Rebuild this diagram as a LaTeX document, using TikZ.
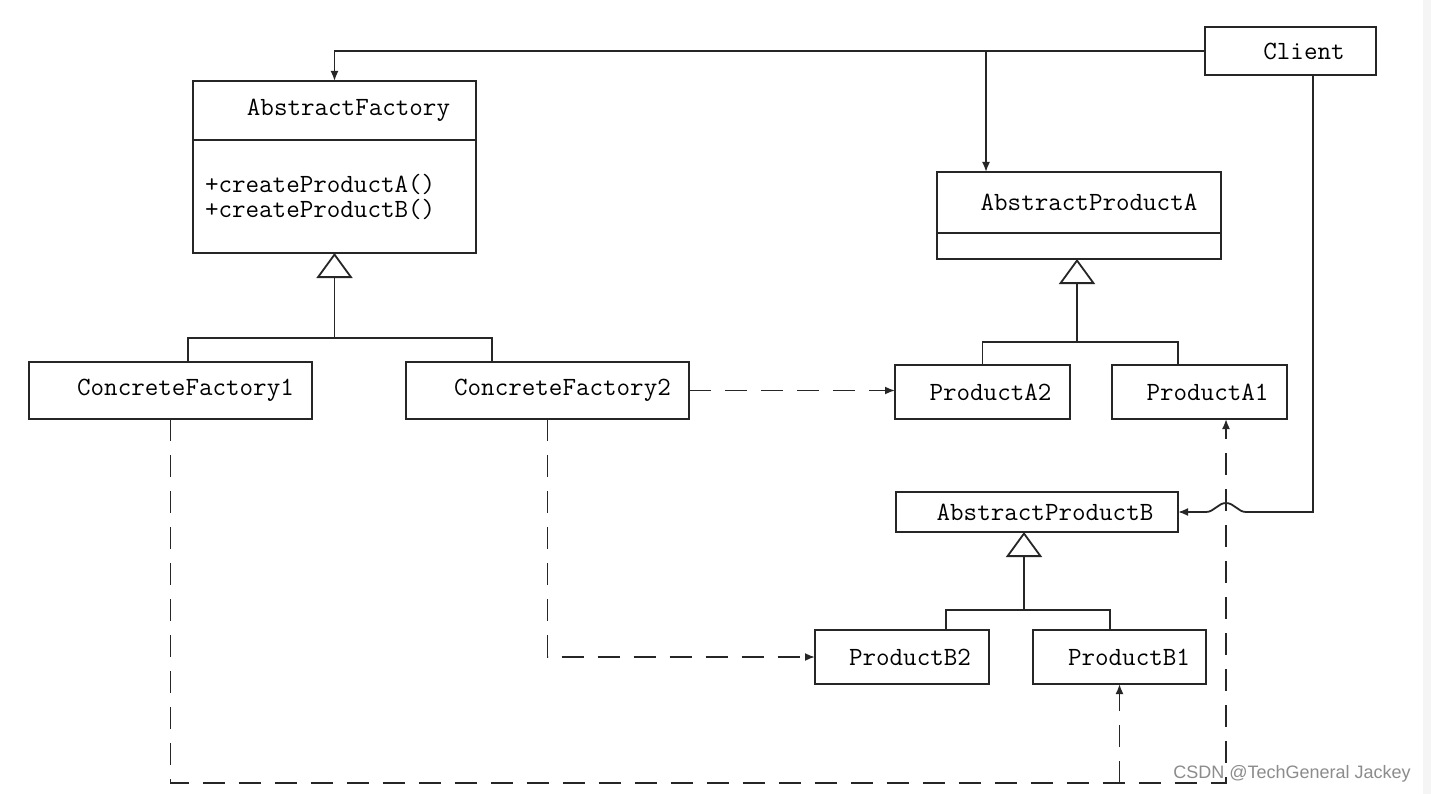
\documentclass[tikz,border=0pt]{standalone}
\usepackage{fontspec}
\setsansfont{Liberation Sans}
\usetikzlibrary{arrows.meta,positioning,calc}

\begin{document}
\begin{tikzpicture}[x=1pt,y=-1pt,line join=miter,
	cls/.style={draw=black!85,line width=1.8pt,fill=white,inner sep=0pt,outer sep=0pt,
		font=\ttfamily\fontsize{26.3}{25}\selectfont},
	ln/.style={draw=black!85,line width=1.8pt},
	arr/.style={ln,-{Latex[length=10pt,width=8pt]}},
	dep/.style={arr,dash pattern=on 22pt off 14pt},
	inh/.style={ln,-{Triangle[open,length=25pt,width=36pt]}},
	wmtext/.style={text=black!45,font=\sffamily\fontsize{18}{20}\selectfont,inner sep=0pt}]
	\useasboundingbox (0,0) rectangle (1431,794);
	\fill[white] (0,0) rectangle (1431,794);
	\fill[black!4] (1423,0) rectangle (1431,794);
	% classes
	\node[cls,minimum width=171pt,minimum height=48pt] (client) at (1290.5,51) {\hspace*{27pt}Client};
	\node[cls,minimum width=283pt,minimum height=59pt] (aft) at (334.5,110.5) {\hspace*{28pt}AbstractFactory};
	\node[cls,minimum width=283pt,minimum height=113pt,text width=259pt,inner xsep=12pt,align=left,below=0pt of aft] (afb)
		{+createProductA()\\+createProductB()};
	\node[cls,minimum width=284pt,minimum height=61pt] (apat) at (1079,202.5) {\hspace*{20pt}AbstractProductA};
	\node[cls,minimum width=284pt,minimum height=26pt,below=0pt of apat] (apab) {};
	\node[cls,minimum width=283pt,minimum height=57pt] (cf1) at (170.5,390.5) {\hspace*{30pt}ConcreteFactory1};
	\node[cls,minimum width=283pt,minimum height=57pt] (cf2) at (547.5,390.5) {\hspace*{30pt}ConcreteFactory2};
	\node[cls,minimum width=175pt,minimum height=54pt] (pa2) at (982.5,392) {\hspace*{16pt}ProductA2};
	\node[cls,minimum width=175pt,minimum height=54pt] (pa1) at (1199.5,392) {\hspace*{16pt}ProductA1};
	\node[cls,minimum width=282pt,minimum height=40pt] (apb) at (1037,512) {\hspace*{16pt}AbstractProductB};
	\node[cls,minimum width=174pt,minimum height=54pt] (pb2) at (902,657) {\hspace*{16pt}ProductB2};
	\node[cls,minimum width=173pt,minimum height=54pt] (pb1) at (1119.5,657) {\hspace*{19pt}ProductB1};
	% inheritance
	\coordinate (afj) at ($(afb.south)+(0,85)$);
	\draw[inh] (afj) -- (afb.south);
	\draw[ln] ($(cf1.north)+(17.5,0)$) |- (afj) -| ($(cf2.north)+(-55.5,0)$);
	\coordinate (apaj) at ($(apab.south)+(-2,83)$);
	\draw[inh] (apaj) -- (apaj |- apab.south);
	\draw[ln] (pa2.north) |- (apaj) -| ($(pa1.north)+(-21.5,0)$);
	\coordinate (apbj) at ($(apb.south)+(-13,78)$);
	\draw[inh] (apbj) -- (apbj |- apb.south);
	\draw[ln] ($(pb2.north)+(44,0)$) |- (apbj) -| ($(pb1.north)+(-9.5,0)$);
	% dependencies
	\coordinate (pa1in) at ($(pa1.south)+(26.5,0)$);
	\coordinate (dashbot) at (0,783);
	\draw[dep] (cf2.east) -- (cf2.east -| pa2.west);
	\draw[dep] (cf2.south) |- (pb2.west);
	\draw[dep] (cf1.south) |- (dashbot -| pa1in) -- (pa1in);
	\draw[dep] (pb1.south |- dashbot) -- (pb1.south);
	% client
	\coordinate (apain) at ($(apat.north)+(-93,0)$);
	\coordinate (hop) at (pa1in |- apb.east);
	\draw[arr] (client.west) -| (aft.north);
	\draw[arr] (apain |- client.west) -- (apain);
	\draw[arr] ($(client.south)+(22.5,0)$) |- ($(hop)+(20,0)$)
		.. controls +(-8,0) and +(8,0) .. ($(hop)+(0,-9)$)
		.. controls +(-8,0) and +(8,0) .. ($(hop)+(-20,0)$) -- (apb.east);
	\node[wmtext] (wm) at (1292,774) {CSDN @TechGeneral Jackey};
\end{tikzpicture}
\end{document}
